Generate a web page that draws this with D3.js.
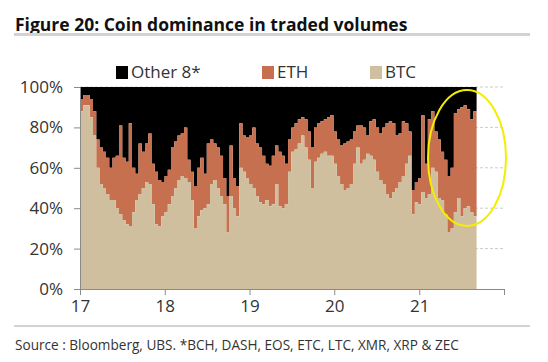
<!DOCTYPE html>
<html>
<head>
<meta charset="utf-8">
<script src="https://cdn.jsdelivr.net/npm/d3@7"></script>
<style>
  body { margin: 0; background: #fff; }
  svg text { font-family: "Open Sans", sans-serif; fill: #333; }
</style>
</head>
<body>
<div id="chart"></div>
<script>
// fortnightly shares (%), starting Jan 2017
var startDate = new Date(2017, 0, 1);
var stepDays = 14;

var btcShare = [88,91,91,85,76,60,52,50,47,44,44,40,37,34,32,31,38,44,47,50,
  53,52,42,32,31,36,38,42,46,50,54,56,55,53,44,30,36,39,40,42,
  52,54,50,46,42,28,46,40,36,60,58,55,52,50,46,43,42,44,41,42,
  52,41,40,42,58,68,69,72,76,70,64,50,63,65,67,68,66,66,62,56,
  52,49,50,52,62,70,62,64,67,66,64,58,54,52,47,45,48,50,53,56,
  62,66,37,43,42,48,45,47,60,58,45,44,37,28,30,38,45,36,40,41,
  38,36];

var ethShare = [6,5,5,9,12,14,18,18,18,16,21,26,44,31,31,51,22,13,25,18,
  19,25,20,26,23,17,18,17,24,23,22,21,25,11,14,21,24,26,17,30,
  22,18,20,20,13,18,25,15,15,22,18,20,24,30,26,27,24,18,20,24,
  19,27,26,20,16,12,13,12,9,14,14,20,17,17,16,16,19,20,16,18,
  19,23,23,22,16,11,19,16,9,17,20,22,23,28,35,38,34,26,24,27,
  20,12,12,10,13,38,17,37,28,20,29,24,27,28,30,49,44,54,51,48,
  46,52];

var yTicks = [0, 20, 40, 60, 80, 100];
var yearTicks = [2017, 2018, 2019, 2020, 2021, 2022];
var legendItems = ["Other 8*", "ETH", "BTC"];
var colors = {"Other 8*": "#000000", "ETH": "#c6704f", "BTC": "#cfbf9f"};

var svgW = 548, svgH = 362;
var margin = {top: 87, left: 80, right: 44, bottom: 73};

var table = btcShare.map(function(b, i) {
  return {date: d3.timeDay.offset(startDate, i * stepDays), btc: b, eth: ethShare[i]};
});
// extend the last step to the end of its period
var last = table[table.length - 1];
table.push({date: d3.timeDay.offset(startDate, table.length * stepDays), btc: last.btc, eth: last.eth});

var x = d3.scaleTime()
  .domain([new Date(2017, 0, 1), new Date(2022, 0, 1)])
  .range([margin.left, svgW - margin.right]);
var y = d3.scaleLinear()
  .domain([0, 100])
  .range([svgH - margin.bottom, margin.top]);

var svg = d3.select("#chart").append("svg")
  .attr("width", svgW)
  .attr("height", svgH);

// title
svg.append("text")
  .attr("x", 15).attr("y", 31)
  .style("font-size", "17.5px").style("font-weight", "bold").style("fill", "#111")
  .text("Figure 20: Coin dominance in traded volumes");
svg.append("rect").attr("x", 14).attr("y", 33).attr("width", 516).attr("height", 3).attr("fill", "#d2d2d2");

// gridlines
svg.append("g").selectAll("line")
  .data(yTicks.slice(1))
  .enter().append("line")
  .attr("x1", margin.left).attr("x2", svgW - margin.right)
  .attr("y1", function(d) { return y(d); })
  .attr("y2", function(d) { return y(d); })
  .attr("stroke", "#cccccc")
  .attr("stroke-dasharray", "3,2");

var curve = d3.curveStepAfter;

svg.append("path").datum(table)
  .attr("fill", colors["Other 8*"])
  .attr("d", d3.area().curve(curve)
    .x(function(d) { return x(d.date); })
    .y0(function(d) { return y(d.btc + d.eth); })
    .y1(function() { return y(100); }));

svg.append("path").datum(table)
  .attr("fill", colors["ETH"])
  .attr("d", d3.area().curve(curve)
    .x(function(d) { return x(d.date); })
    .y0(function(d) { return y(d.btc); })
    .y1(function(d) { return y(d.btc + d.eth); }));

svg.append("path").datum(table)
  .attr("fill", colors["BTC"])
  .attr("d", d3.area().curve(curve)
    .x(function(d) { return x(d.date); })
    .y0(y(0))
    .y1(function(d) { return y(d.btc); }));

// axes
var yAxis = d3.axisLeft(y)
  .tickValues(yTicks)
  .tickSize(6)
  .tickPadding(11)
  .tickFormat(function(d) { return d + "%"; });
var gy = svg.append("g")
  .attr("transform", "translate(" + margin.left + ",0)")
  .call(yAxis);

var xAxis = d3.axisBottom(x)
  .tickValues(yearTicks.map(function(yr) { return new Date(yr, 0, 1); }))
  .tickSize(6)
  .tickPadding(5)
  .tickFormat(function(d) { return d.getFullYear() < 2022 ? d3.timeFormat("%y")(d) : ""; });
var gx = svg.append("g")
  .attr("transform", "translate(0," + y(0) + ")")
  .call(xAxis);

[gx, gy].forEach(function(g) {
  g.select(".domain").attr("stroke", "#8a8a8a");
  g.selectAll(".tick line").attr("stroke", "#8a8a8a");
  g.selectAll(".tick text").style("font-size", "17px").style("font-family", "'Open Sans', sans-serif").attr("fill", "#333");
});

// legend
var legendX = [116, 262, 370];
var lg = svg.append("g").selectAll("g")
  .data(legendItems)
  .enter().append("g")
  .attr("transform", function(d, i) { return "translate(" + legendX[i] + ",66)"; });
lg.append("rect").attr("width", 12).attr("height", 13)
  .attr("fill", function(d) { return colors[d]; });
lg.append("text").attr("x", 15).attr("y", 12)
  .style("font-size", "17px")
  .text(function(d) { return d; });

// highlight ellipse
svg.append("ellipse")
  .attr("cx", 467).attr("cy", 158).attr("rx", 39).attr("ry", 68)
  .attr("fill", "none").attr("stroke", "#f2ee00").attr("stroke-width", 2);

// footer
svg.append("rect").attr("x", 14).attr("y", 325).attr("width", 516).attr("height", 2).attr("fill", "#d2d2d2");
svg.append("text")
  .attr("x", 15).attr("y", 350)
  .style("font-size", "13.6px")
  .text("Source : Bloomberg, UBS. *BCH, DASH, EOS, ETC, LTC, XMR, XRP & ZEC");
</script>
</body>
</html>
